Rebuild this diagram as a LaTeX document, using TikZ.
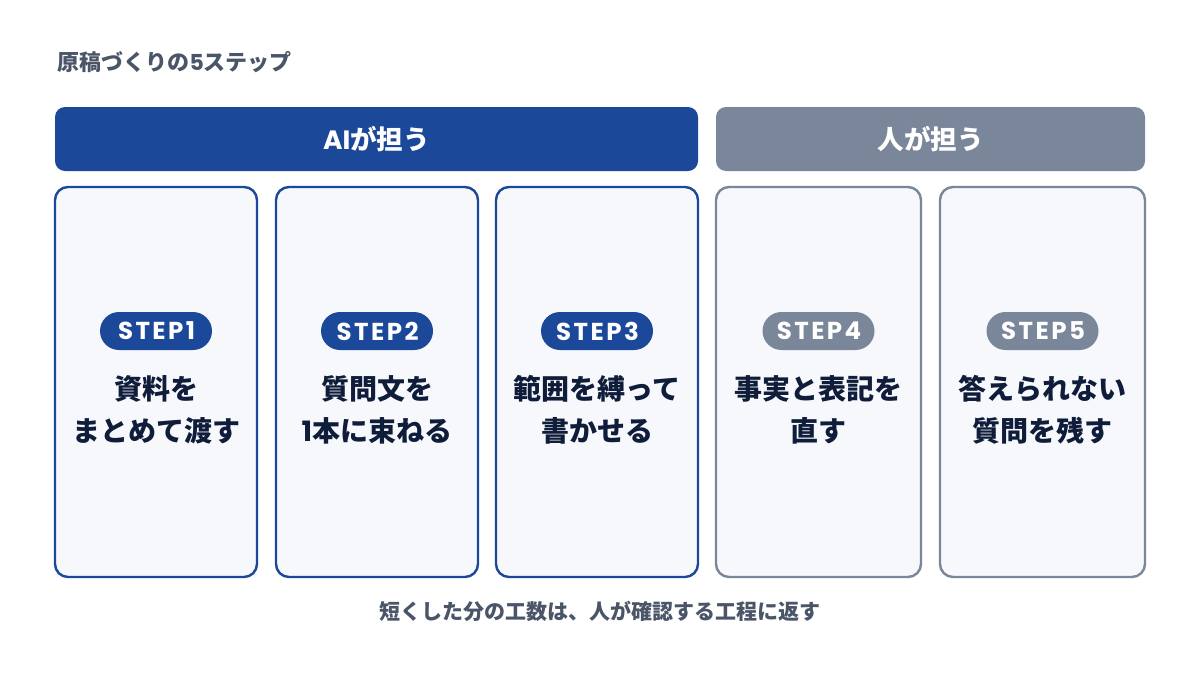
\documentclass[tikz,border=0pt]{standalone}
\usepackage{fontspec}
\IfFontExistsTF{Noto Sans CJK JP Black}
  {\newfontfamily\jpb{Noto Sans CJK JP Black}}
  {\newfontfamily\jpb{Noto Sans CJK JP Bold}}
\newfontfamily\pop{Poppins}[UprightFont={* Bold}]
\newfontfamily\popsp{Poppins}[UprightFont={* Bold},LetterSpace=10]
\definecolor{aiblue}{HTML}{1B4898}
\definecolor{hgray}{HTML}{7A8699}
\definecolor{cardfill}{HTML}{F6F8FC}
\definecolor{navy}{HTML}{0F1D3A}
\definecolor{slate}{HTML}{4A5568}
\begin{document}
\begin{tikzpicture}[x=1pt,y=-1pt,
  header/.style={text=white,font=\jpb\fontsize{26.5}{28}\selectfont,inner sep=0pt},
  card/.style={rounded corners=13pt,fill=cardfill,line width=2.4pt},
  pill/.style={rounded corners=19pt,minimum width=112pt,minimum height=38pt,inner sep=0pt,text=white,font=\popsp\fontsize{24.5}{25}\selectfont},
  body/.style={text=navy,align=center,font=\jpb\fontsize{28}{42}\selectfont},
]
\useasboundingbox[fill=white] (0,0) rectangle (1200,675);
\node[anchor=west,text=slate,font=\jpb\fontsize{22}{24}\selectfont] (title) at (54,62) {原稿づくりの{\pop 5}ステップ};
% headers
\fill[aiblue,rounded corners=10pt] (55,107) rectangle (698,171);
\node[header] (ai) at (376.5,139) {{\pop AI}が担う};
\fill[hgray,rounded corners=10pt] (716,107) rectangle (1145,171);
\node[header] (hu) at (930.5,139) {人が担う};
% cards
\foreach \i/\xa/\xb/\c/\l in {1/55/257/aiblue/{資料を\\まとめて渡す},2/276/478/aiblue/{質問文を\\{\pop 1}本に束ねる},3/496/698/aiblue/{範囲を縛って\\書かせる},4/716/921/hgray/{事実と表記を\\直す},5/940/1145/hgray/{答えられない\\質問を残す}}{
  \draw[card,draw=\c] (\xa,187) rectangle (\xb,577);
  \node[pill,fill=\c] (p\i) at ({(\xa+\xb)/2},331) {\hspace{1.2pt}STEP\i};
  \node[body] (t\i) at ({(\xa+\xb)/2},410) {\l};
}
\node[text=slate,font=\jpb\fontsize{21}{22}\selectfont] (foot) at (600,611) {短くした分の工数は、人が確認する工程に返す};
\end{tikzpicture}
\end{document}
